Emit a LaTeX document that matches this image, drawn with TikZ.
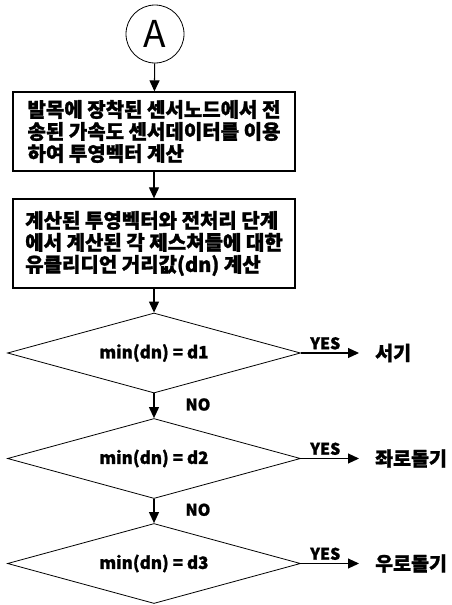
\documentclass[tikz,border=0pt]{standalone}
\usepackage{fontspec}
\setmainfont{Noto Sans CJK KR}[BoldFeatures={FakeBold=1.2}]
\usetikzlibrary{shapes.geometric,arrows.meta}
\begin{document}
\begin{tikzpicture}[x=1pt,y=-1pt,
  every node/.style={inner sep=0pt},
  arr/.style={draw, line width=1.1pt, -{Triangle[length=11pt,width=10pt]}},
  procbox/.style={draw, line width=1.3pt, minimum width=282pt, align=left, font=\bfseries\fontsize{20}{22}\selectfont},
  decision/.style={draw, line width=0.8pt, diamond, aspect=3.66, minimum width=293pt, minimum height=80pt, font=\bfseries\fontsize{17}{20}\selectfont},
  lbl/.style={font=\bfseries\fontsize{16}{18}\selectfont},
  res/.style={anchor=west, font=\bfseries\fontsize{19.5}{22}\selectfont}]
\useasboundingbox (0,0) rectangle (452,605);
\node[draw, circle, line width=0.8pt, minimum size=58pt, font=\fontsize{37}{39}\selectfont] (A) at (155,34) {A};
\node[procbox, minimum height=79pt] (b1) at (154,131.5) {발목에 장착된 센서노드에서 전\\송된 가속도 센서데이터를 이용\\하여 투영벡터 계산};
\node[procbox, minimum height=89pt] (b2) at (154,243.5) {계산된 투영벡터와 전처리 단계\\에서 계산된 각 제스쳐들에 대한\\유클리디언 거리값(dn) 계산};
\node[decision] (d1) at (154,353) {min(dn) = d1};
\node[decision] (d2) at (154,458.5) {min(dn) = d2};
\node[decision] (d3) at (154,563.5) {min(dn) = d3};
\coordinate (e1) at (359,353);
\coordinate (e2) at (359,458.5);
\coordinate (e3) at (359,563.5);
\node[res] (r1) at (375,353) {서기};
\node[res] (r2) at (375,458.5) {좌로돌기};
\node[res] (r3) at (375,563.5) {우로돌기};
\draw[arr] (A) -- (b1);
\draw[arr] (b1) -- (b2);
\draw[arr] (b2) -- (d1);
\draw[arr] (d1) -- node[lbl, right=31pt, pos=0.45] {NO} (d2);
\draw[arr] (d2) -- node[lbl, right=31pt, pos=0.45] {NO} (d3);
\draw[arr] (d1.east) -- node[lbl, above=3pt, pos=0.42] {YES} (e1);
\draw[arr] (d2.east) -- node[lbl, above=3pt, pos=0.42] {YES} (e2);
\draw[arr] (d3.east) -- node[lbl, above=3pt, pos=0.42] {YES} (e3);
\end{tikzpicture}
\end{document}
